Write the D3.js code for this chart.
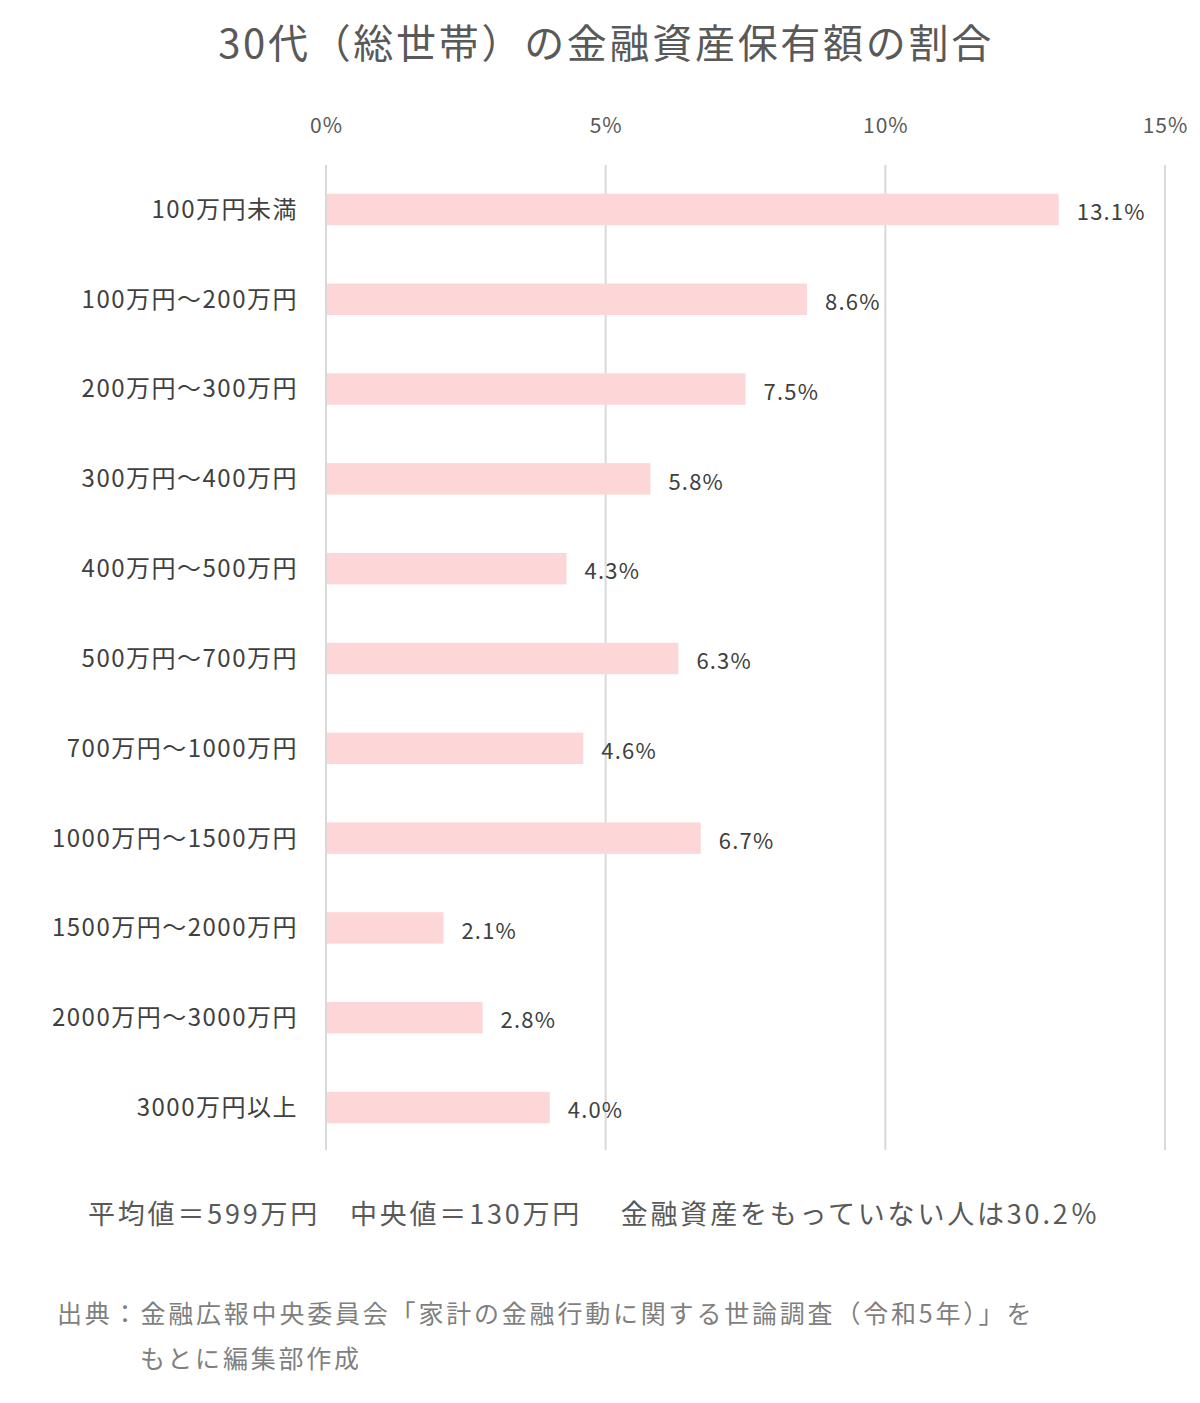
<!DOCTYPE html>
<html>
<head>
<meta charset="utf-8">
<script src="https://d3js.org/d3.v7.min.js"></script>
<style>
  body { margin: 0; background: white; }
  text { font-family: "Noto Sans CJK JP", "Noto Sans", sans-serif; }
</style>
</head>
<body>
<div id="chart"></div>
<script>
// data
var categories = ["100万円未満", "100万円〜200万円", "200万円〜300万円", "300万円〜400万円",
  "400万円〜500万円", "500万円〜700万円", "700万円〜1000万円", "1000万円〜1500万円",
  "1500万円〜2000万円", "2000万円〜3000万円", "3000万円以上"];
var values = [13.1, 8.6, 7.5, 5.8, 4.3, 6.3, 4.6, 6.7, 2.1, 2.8, 4.0];
var tickValues = [0, 5, 10, 15];

var width = 1200, height = 1403;
var margin = {top: 165, left: 326, right: 35, bottom: 253};

var svg = d3.select("#chart").append("svg")
  .attr("width", width)
  .attr("height", height);

var x = d3.scaleLinear()
  .domain([0, 15])
  .range([margin.left, width - margin.right]);

var y = d3.scaleBand()
  .domain(categories)
  .range([margin.top, height - margin.bottom + 2])
  .paddingInner(0.65)
  .paddingOuter(0.32);

// title
svg.append("text")
  .attr("x", 606).attr("y", 58)
  .attr("text-anchor", "middle")
  .style("font-size", "40px")
  .style("letter-spacing", "2.7px")
  .style("fill", "#595959")
  .text("30代（総世帯）の金融資産保有額の割合");

// gridlines
svg.selectAll(".grid")
  .data(tickValues)
  .enter().append("line")
  .attr("x1", function(d) { return x(d); })
  .attr("x2", function(d) { return x(d); })
  .attr("y1", margin.top)
  .attr("y2", height - margin.bottom)
  .attr("stroke", "#d9d9d9")
  .attr("stroke-width", 2);

// top axis labels
var axis = svg.append("g")
  .attr("transform", "translate(0,136)")
  .call(d3.axisTop(x).tickValues(tickValues).tickSize(0).tickFormat(function(d) { return d + "%"; }));
axis.select(".domain").remove();
axis.selectAll("text")
  .attr("dy", 0)
  .style("font-size", "21px")
  .style("letter-spacing", "1px")
  .style("font-family", "'Noto Sans CJK JP', sans-serif")
  .style("fill", "#595959");

// bars
svg.selectAll(".bar")
  .data(values)
  .enter().append("rect")
  .attr("x", x(0) + 1)
  .attr("y", function(d, i) { return y(categories[i]); })
  .attr("width", function(d) { return x(d) - x(0) - 1; })
  .attr("height", y.bandwidth())
  .attr("fill", "#fdd6d8");

// category labels
svg.selectAll(".cat")
  .data(categories)
  .enter().append("text")
  .attr("x", 298)
  .attr("y", function(d) { return y(d) + y.bandwidth() / 2; })
  .attr("dy", "0.35em")
  .attr("text-anchor", "end")
  .style("font-size", "24px")
  .style("letter-spacing", "1.5px")
  .style("fill", "#404040")
  .text(function(d) { return d; });

// value labels
svg.selectAll(".val")
  .data(values)
  .enter().append("text")
  .attr("x", function(d) { return x(d) + 18; })
  .attr("y", function(d, i) { return y(categories[i]) + y.bandwidth() / 2 + 3; })
  .attr("dy", "0.35em")
  .style("font-size", "22px")
  .style("letter-spacing", "1.2px")
  .style("fill", "#404040")
  .text(function(d) { return d.toFixed(1) + "%"; });

// summary
svg.append("text")
  .attr("x", 88).attr("y", 1224)
  .style("font-size", "27px")
  .style("letter-spacing", "2.8px")
  .style("fill", "#595959")
  .attr("xml:space", "preserve")
  .text("平均値＝599万円　中央値＝130万円　 金融資産をもっていない人は30.2％");

// source
svg.append("text")
  .attr("x", 57).attr("y", 1323)
  .style("font-size", "25px")
  .style("letter-spacing", "2.8px")
  .style("fill", "#7f7f7f")
  .text("出典：金融広報中央委員会「家計の金融行動に関する世論調査（令和5年）」を");
svg.append("text")
  .attr("x", 140).attr("y", 1368)
  .style("font-size", "25px")
  .style("letter-spacing", "2.8px")
  .style("fill", "#7f7f7f")
  .text("もとに編集部作成");
</script>
</body>
</html>
